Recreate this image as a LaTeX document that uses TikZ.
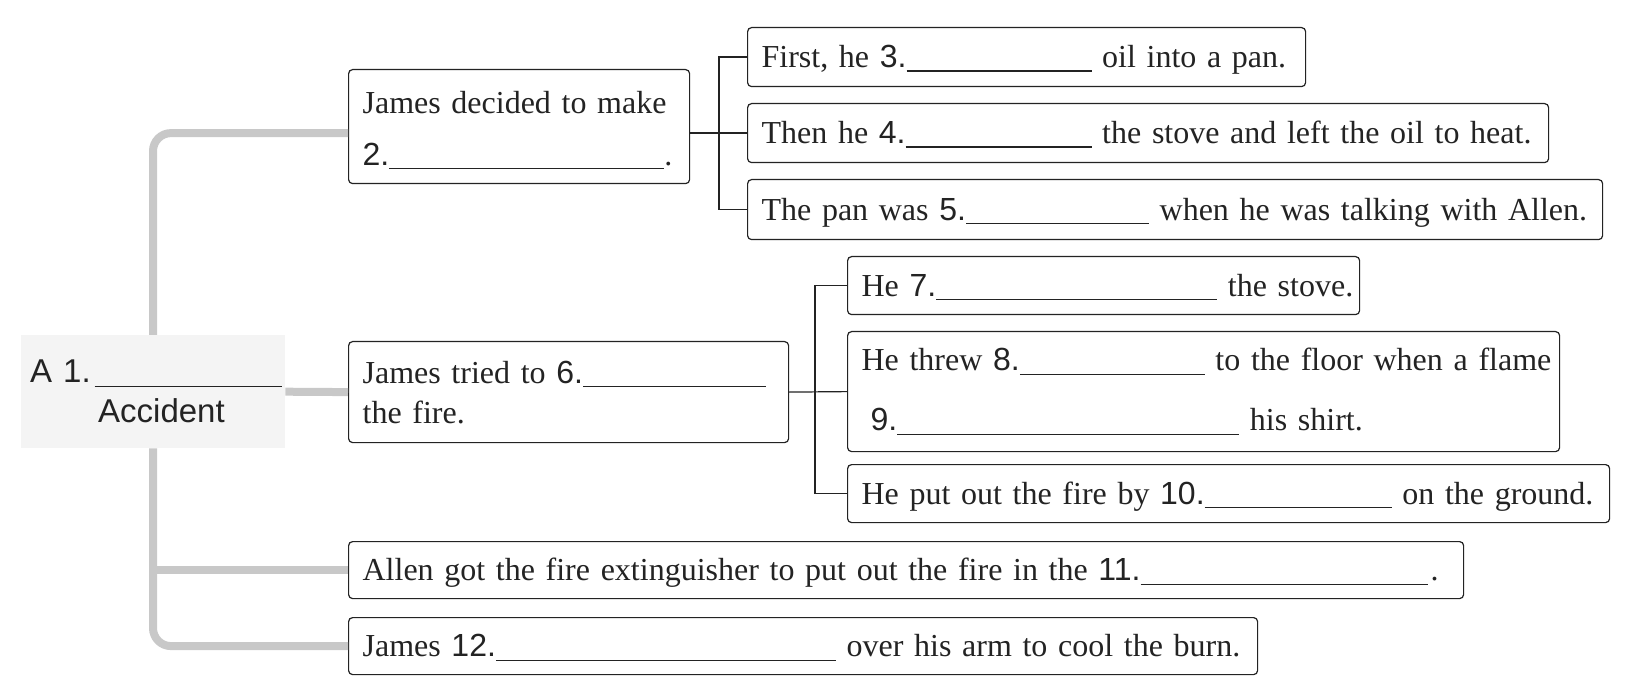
\documentclass[tikz,border=0pt]{standalone}
\usepackage{fontspec}
\setmainfont{Liberation Serif}
\newfontfamily\sansnum{Liberation Sans}
\definecolor{trunkgray}{RGB}{200,200,200}
\definecolor{accbg}{RGB}{244,244,244}
\definecolor{ink}{RGB}{35,35,35}
\newcommand\blnk[1]{\rule[-4pt]{#1pt}{1.1pt}}
\newcommand\nb[1]{{\sansnum\fontsize{32}{40}\selectfont #1}}
\begin{document}
\begin{tikzpicture}[x=1pt,y=-1pt,
  box/.style={draw=ink, line width=1.2pt, rounded corners=4pt, anchor=north west,
    align=left, inner xsep=14pt, inner ysep=2pt, text=ink,
    font=\fontsize{32}{40}\selectfont},
  oneline/.style={text height=25pt, text depth=4pt},
  trunk/.style={draw=trunkgray, line width=8pt},
  conn/.style={draw=ink, line width=1.2pt},
]
\useasboundingbox (0,0) rectangle (1643,692);

% accident node
\node[fill=accbg, anchor=north west, minimum width=264pt, minimum height=113pt,
  text width=246pt, inner xsep=9pt, inner ysep=2pt, align=left, text=ink,
  font=\sansnum\fontsize{33}{40}\selectfont] (acc) at (21,335)
  {\mbox{A 1.\hspace{4pt}\blnk{187}}\\\mbox{\hspace*{68pt}Accident}};

% boxes
\node[box, text width=313pt, minimum height=114pt] (b2) at (348,69)
  {\mbox{\rule{0pt}{29pt}James decided to make}\\[12pt]\mbox{\nb{2.}\blnk{275}.}};
\node[box, oneline, text width=530pt, minimum height=59pt] (b3) at (747,27)
  {\mbox{First, he \nb{3.}\blnk{185} oil into a pan.}};
\node[box, oneline, text width=773pt, minimum height=59pt] (b4) at (747,103)
  {\mbox{Then he \nb{4.}\blnk{186} the stove and left the oil to heat.}};
\node[box, oneline, text width=827pt, minimum height=60pt] (b5) at (747,179)
  {\mbox{The pan was \nb{5.}\blnk{183} when he was talking with Allen.}};
\node[box, text width=412pt, minimum height=101pt] (b6) at (348,341)
  {\mbox{James tried to \nb{6.}\blnk{183}}\\\mbox{the fire.}};
\node[box, oneline, text width=484pt, minimum height=58pt] (b7) at (847,256)
  {\mbox{He \nb{7.}\blnk{281} the stove.}};
\node[box, text width=684pt, minimum height=120pt] (b8) at (847,331)
  {\mbox{He threw \nb{8.}\blnk{185} to the floor when a flame}\\[20pt]\mbox{\hspace*{9pt}\nb{9.}\blnk{342} his shirt.}};
\node[box, oneline, text width=734pt, minimum height=58pt] (b10) at (847,464)
  {\mbox{He put out the fire by \nb{10.}\blnk{187} on the ground.}};
\node[box, oneline, text width=1087pt, minimum height=57pt] (b11) at (348,541)
  {\mbox{Allen got the fire extinguisher to put out the fire in the \nb{11.}\blnk{287}\hspace{3pt}.}};
\node[box, oneline, text width=881pt, minimum height=57pt] (b12) at (348,617)
  {\mbox{James \nb{12.}\blnk{340} over his arm to cool the burn.}};

% coordinates
\coordinate (tx) at (153,0);
\coordinate (bx1) at (719,0);
\coordinate (bx2) at (815,0);

% gray trunk
\draw[trunk, rounded corners=18pt] (acc.north -| tx) -- (tx |- b4.west) -- (b2.west |- b4.west);
\draw[trunk, rounded corners=18pt] (acc.south -| tx) -- (tx |- b12.west) -- (b12.west);
\draw[trunk] (tx |- b11.west) -- (b11.west);
\draw[trunk] (acc.east) -- (b6.west);

% black brackets
\draw[conn] (b2.east |- b4.west) -- (b4.west);
\draw[conn] (b3.west) -- (b3.west -| bx1) -- (b5.west -| bx1) -- (b5.west);
\draw[conn] (b6.east) -- (b8.west);
\draw[conn] (b7.west) -- (b7.west -| bx2) -- (b10.west -| bx2) -- (b10.west);
\end{tikzpicture}
\end{document}
